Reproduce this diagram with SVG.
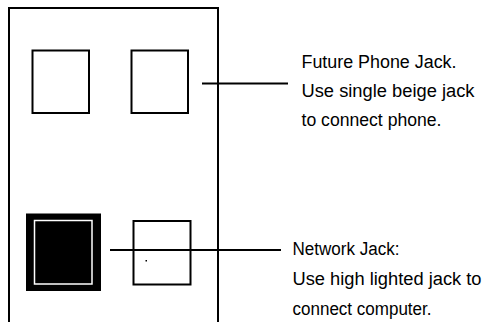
<svg xmlns="http://www.w3.org/2000/svg" width="487" height="322" viewBox="0 0 487 322">
<style>
.box{fill:#fff;stroke:#000;stroke-width:2}
.ln{stroke:#000;stroke-width:2;fill:none}
.t{font-family:"Liberation Sans",Arial,sans-serif;font-size:18px;fill:#000}
</style>
<rect width="487" height="322" fill="#fff"/>
<g id="panel"><rect class="box" x="9" y="8" width="209" height="340"/></g>
<g id="jack-top-left"><rect class="box" x="32.5" y="50.5" width="56.5" height="62.5"/></g>
<g id="jack-top-right"><rect class="box" x="131.5" y="50.5" width="56.5" height="62.5"/></g>
<g id="jack-network">
<rect x="26" y="213.5" width="75" height="77.5" fill="#000"/>
<rect x="34.5" y="220.5" width="57.5" height="63.5" fill="none" stroke="#fff" stroke-width="1.5"/>
</g>
<g id="jack-bottom-right"><rect class="box" x="133.5" y="221" width="57" height="63.5"/>
<rect x="145.5" y="260" width="1.5" height="1.5" fill="#000"/></g>
<g id="connectors">
<line class="ln" x1="202" y1="83.5" x2="288" y2="83.5"/>
<line class="ln" x1="110" y1="250" x2="281" y2="250"/>
</g>
<g id="label-phone">
<text class="t" x="301.5" y="68" textLength="155" lengthAdjust="spacingAndGlyphs">Future Phone Jack.</text>
<text class="t" x="301.5" y="97" textLength="173" lengthAdjust="spacingAndGlyphs">Use single beige jack</text>
<text class="t" x="301.5" y="126" textLength="140" lengthAdjust="spacingAndGlyphs">to connect phone.</text>
</g>
<g id="label-network">
<text class="t" x="292.5" y="254.5" textLength="107" lengthAdjust="spacingAndGlyphs">Network Jack:</text>
<text class="t" x="292.5" y="285" textLength="189" lengthAdjust="spacingAndGlyphs">Use high lighted jack to</text>
<text class="t" x="292.5" y="315" textLength="139" lengthAdjust="spacingAndGlyphs">connect computer.</text>
</g>
</svg>
